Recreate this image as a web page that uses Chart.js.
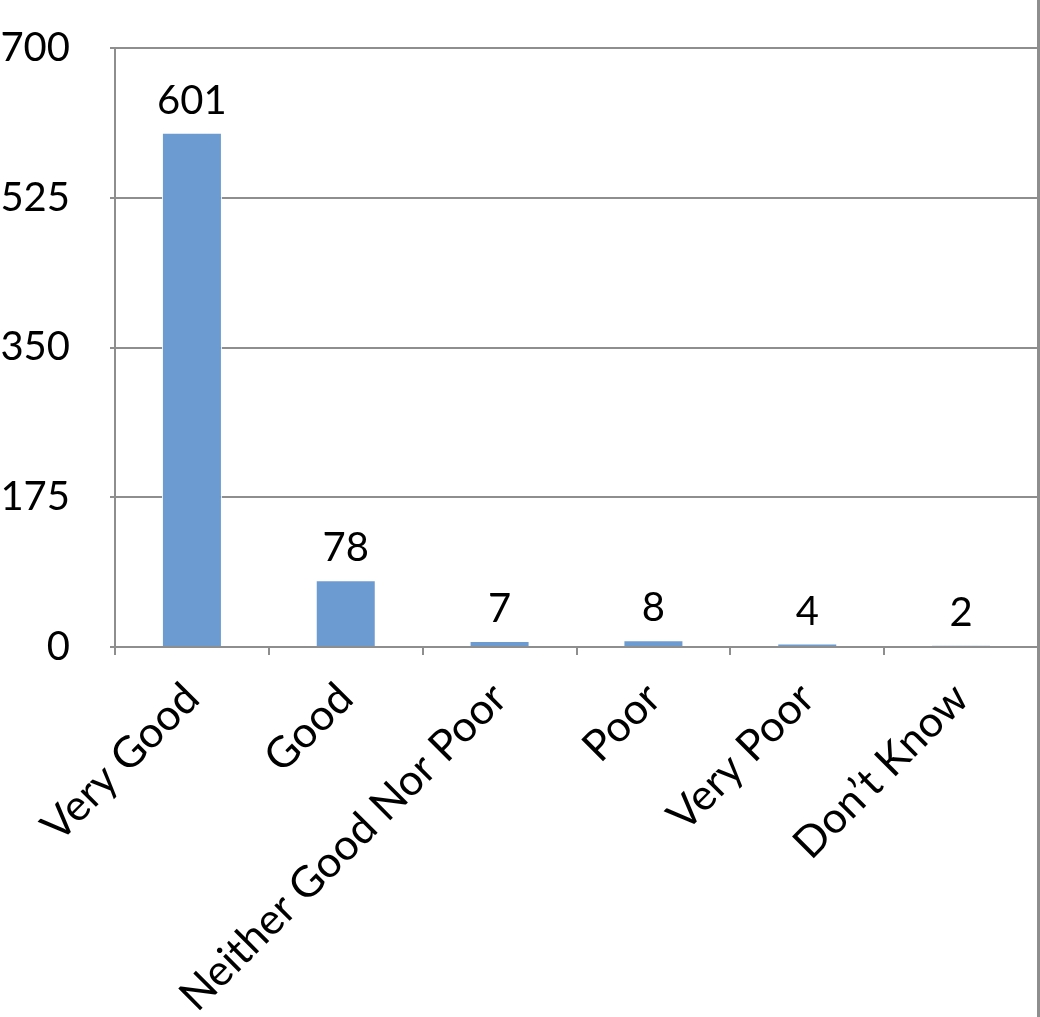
<!DOCTYPE html>
<html>
<head>
<meta charset="utf-8">
<script src="https://cdn.jsdelivr.net/npm/chart.js@4.4.0/dist/chart.umd.min.js"></script>
<style>
  html, body { margin: 0; padding: 0; background: #ffffff; }
  #wrap { position: relative; width: 1040px; height: 1017px; overflow: hidden; }
  #frame { position: absolute; left: 1037px; top: 0; width: 3px; height: 1017px; background: #8e8e8e; }
</style>
</head>
<body>
<div id="wrap">
  <canvas id="c" width="1040" height="1017"></canvas>
  <div id="frame"></div>
</div>
<script>
const categories = ["Very Good", "Good", "Neither Good Nor Poor", "Poor", "Very Poor", "Don\u2019t Know"];
const counts = [601, 78, 7, 8, 4, 2];
const yTicks = [0, 175, 350, 525, 700];

const FONT = "Lato, 'Open Sans', sans-serif";

const dataLabels = {
  id: 'dataLabels',
  afterDatasetsDraw(chart) {
    const ctx = chart.ctx;
    const meta = chart.getDatasetMeta(0);
    ctx.save();
    ctx.font = "40px " + FONT;
    ctx.fillStyle = "#000000";
    ctx.textAlign = "center";
    ctx.textBaseline = "alphabetic";
    meta.data.forEach((bar, i) => {
      const p = bar.getProps(['x', 'y'], true);
      ctx.fillText(String(chart.data.datasets[0].data[i]), p.x, p.y - 19);
    });
    ctx.restore();
  }
};

new Chart(document.getElementById('c'), {
  type: 'bar',
  data: {
    labels: categories,
    datasets: [{
      data: counts,
      backgroundColor: '#6b9bd0',
      borderColor: '#ffffff',
      borderWidth: 1,
      categoryPercentage: 1.0,
      barPercentage: 0.39
    }]
  },
  options: {
    responsive: false,
    animation: false,
    layout: { padding: { top: 48, right: 2, left: 0, bottom: 0 } },
    plugins: { legend: { display: false }, tooltip: { enabled: false } },
    scales: {
      x: {
        grid: { display: true, drawOnChartArea: false, drawTicks: true, tickLength: 8, color: '#8e8e8e', lineWidth: 2 },
        border: { display: true, color: '#8e8e8e', width: 2 },
        ticks: {
          color: '#000000',
          font: { family: FONT, size: 43 },
          maxRotation: 45, minRotation: 45,
          autoSkip: false,
          padding: 18
        },
        afterFit(scale) { scale.height = 370; }
      },
      y: {
        min: 0, max: 700,
        afterBuildTicks(scale) { scale.ticks = yTicks.map(v => ({ value: v })); },
        grid: { color: '#8e8e8e', lineWidth: 2, tickLength: 5 },
        border: { display: true, color: '#8e8e8e', width: 2 },
        ticks: {
          color: '#000000',
          font: { family: FONT, size: 40 },
          padding: 40
        },
        afterFit(scale) { scale.width = 115; scale.paddingTop = 0; scale.paddingBottom = 0; }
      }
    }
  },
  plugins: [dataLabels]
});
</script>
</body>
</html>
